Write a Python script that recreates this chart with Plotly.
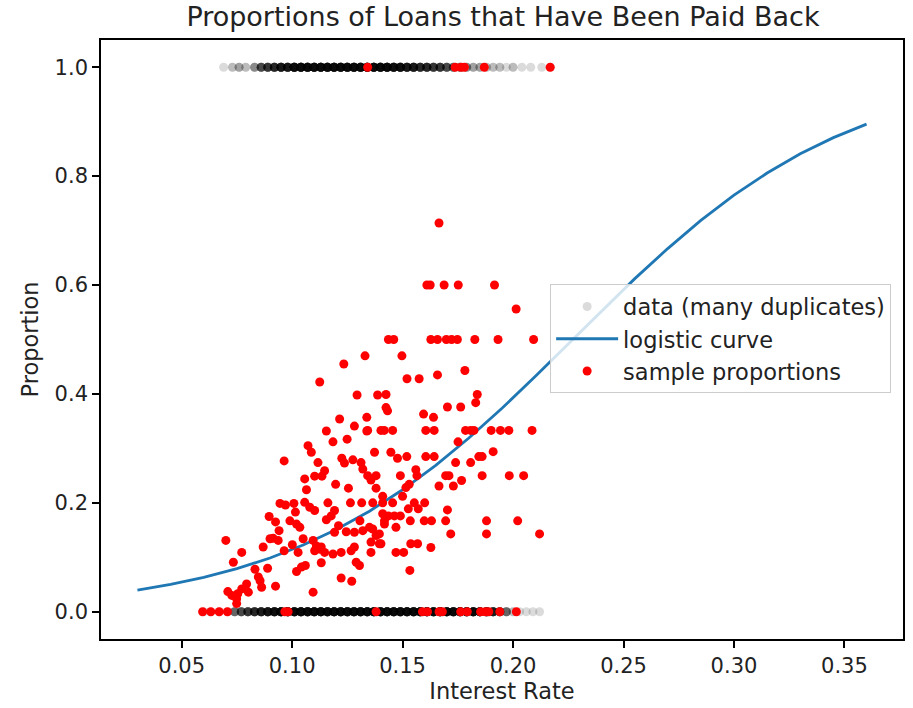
import numpy as np
import plotly.graph_objects as go

# Raw loan outcomes: interest rate values and how many loans share each value
rates_y1 = [0.069, 0.073, 0.076, 0.079, 0.083, 0.086, 0.089, 0.092, 0.095, 0.098,
            0.101, 0.104, 0.107, 0.110, 0.113, 0.116, 0.119, 0.122, 0.125, 0.128,
            0.131, 0.134, 0.137, 0.140, 0.143, 0.146, 0.149, 0.152, 0.155, 0.158,
            0.161, 0.164, 0.167, 0.170, 0.173, 0.176, 0.179, 0.182, 0.185, 0.188,
            0.191, 0.194, 0.197, 0.200, 0.204, 0.208, 0.213, 0.217]
counts_y1 = [1, 2, 3, 2, 4, 8, 10, 12, 15, 15,
             20, 20, 20, 20, 20, 20, 20, 20, 20, 20,
             20, 20, 20, 20, 20, 18, 18, 15, 15, 12,
             12, 10, 10, 8, 6, 5, 4, 3, 3, 2,
             2, 2, 1, 2, 1, 1, 1, 1]

rates_y0 = [0.060, 0.063, 0.067, 0.071, 0.074, 0.077, 0.080, 0.083, 0.086, 0.089,
            0.092, 0.095, 0.098, 0.101, 0.104, 0.107, 0.110, 0.113, 0.116, 0.119,
            0.122, 0.125, 0.128, 0.131, 0.134, 0.137, 0.140, 0.143, 0.146, 0.149,
            0.152, 0.155, 0.158, 0.161, 0.164, 0.167, 0.170, 0.173, 0.176, 0.179,
            0.182, 0.185, 0.188, 0.191, 0.194, 0.197, 0.200, 0.203, 0.206, 0.209,
            0.212]
counts_y0 = [1, 1, 1, 1, 6, 8, 10, 12, 14, 16,
             18, 20, 20, 20, 20, 20, 20, 20, 20, 20,
             20, 20, 20, 20, 20, 20, 20, 20, 20, 20,
             20, 20, 20, 20, 20, 20, 20, 20, 20, 20,
             20, 18, 16, 14, 10, 6, 2, 1, 1, 1,
             1]

# Fitted logistic curve, sampled along the interest-rate range
curve_rate = [0.030, 0.045, 0.060, 0.075, 0.090, 0.105, 0.120, 0.135, 0.150, 0.165,
              0.180, 0.195, 0.210, 0.225, 0.240, 0.255, 0.270, 0.285, 0.300, 0.315,
              0.330, 0.345, 0.360]
curve_prob = [0.0399, 0.0503, 0.0632, 0.0792, 0.0987, 0.1225, 0.1510, 0.1847, 0.2240, 0.2689,
              0.3190, 0.3738, 0.4320, 0.4922, 0.5526, 0.6113, 0.6670, 0.7186, 0.7650, 0.8057,
              0.8410, 0.8707, 0.8956]

# Proportion repaid within each sampled group of loans
sample_rate = [
    0.1665,
    0.1610, 0.1625, 0.1688, 0.1752, 0.1916,
    0.2014,
    0.1436, 0.1460, 0.1628, 0.1658, 0.1698, 0.1722, 0.1748, 0.1827, 0.1932, 0.2093,
    0.1330, 0.1234, 0.1125, 0.1294, 0.1387,
    0.1497, 0.1520, 0.1575, 0.1658, 0.1782, 0.1425, 0.1838, 0.1831, 0.1425, 0.1432, 0.1703, 0.1763,
    0.1595, 0.1640,
    0.1342, 0.1402, 0.1417, 0.1455, 0.1605, 0.1643, 0.1785, 0.1808, 0.1823, 0.1901, 0.1943, 0.1981, 0.2086,
    0.1751, 0.1373,
    0.1447, 0.1477, 0.1519, 0.1605, 0.1643, 0.1910,
    0.1740, 0.1808, 0.1845, 0.1860,
    0.1342, 0.1380, 0.1490, 0.1565, 0.1695, 0.1710, 0.1860, 0.1983, 0.2048,
    0.1560, 0.1357, 0.1380, 0.1515, 0.1530, 0.1665, 0.1730, 0.1767,
    0.1410, 0.1500,
    0.1365, 0.1410, 0.1455, 0.1553, 0.1600,
    0.1526, 0.1571, 0.1703,
    0.1436, 0.1463, 0.1490, 0.1410,
    0.1418, 0.1535, 0.1598, 0.1631, 0.1695, 0.1880, 0.2021, 0.1418,
    0.1470, 0.1365, 0.1380, 0.1395,
    0.1718, 0.1880, 0.2120,
    0.1537, 0.1568, 0.1628, 0.1402,
    0.1470, 0.1505, 0.1357, 0.1395,
    0.1533,
    0.1215, 0.1338, 0.1282, 0.1338, 0.1155, 0.1185, 0.1249, 0.1072, 0.1087,
    0.0964, 0.1117, 0.1225, 0.1237, 0.1275, 0.1312, 0.1320, 0.1147, 0.1102,
    0.1135, 0.1057, 0.1065, 0.1197, 0.1255,
    0.0945, 0.0970, 0.1008, 0.1057, 0.1162, 0.1264, 0.1315,
    0.1080, 0.1102, 0.1015, 0.0896, 0.0925, 0.0990, 0.1020, 0.1035, 0.1155,
    0.1177, 0.1192, 0.1210, 0.1192, 0.1307, 0.1245, 0.1282, 0.1320, 0.1350,
    0.0900, 0.0914, 0.0937, 0.0941, 0.0700, 0.0869, 0.0772, 0.0964, 0.1001,
    0.1050, 0.1027,
    0.1095, 0.1110, 0.1125, 0.1102, 0.1147, 0.1132,
    0.1185, 0.1222, 0.1267, 0.1282, 0.1357,
    0.0734, 0.0832, 0.0847, 0.0855, 0.0889, 0.1020, 0.1042, 0.1060, 0.1132,
    0.1222, 0.1270, 0.1290, 0.1305, 0.1095,
    0.0709, 0.0727, 0.0754, 0.0772, 0.0794, 0.0802, 0.0862, 0.0925, 0.0749, 0.0749,
    0.0595, 0.0632, 0.0670, 0.0707, 0.0967, 0.0982, 0.1380, 0.1590, 0.1613,
    0.1665, 0.1680, 0.1763, 0.1793, 0.1853, 0.1875, 0.1890, 0.1940, 0.2015,
    0.1342, 0.1738, 0.1765, 0.1780, 0.1870, 0.2168,
]
sample_prop = [
    0.714,
    0.600, 0.600, 0.600, 0.600, 0.600,
    0.556,
    0.500, 0.500, 0.500, 0.500, 0.500, 0.500, 0.500, 0.500, 0.500, 0.500,
    0.470, 0.455, 0.422, 0.398, 0.398,
    0.470, 0.428, 0.428, 0.435, 0.443, 0.399, 0.399, 0.384, 0.375, 0.369, 0.376, 0.376,
    0.363, 0.357,
    0.333, 0.333, 0.333, 0.333, 0.333, 0.333, 0.333, 0.333, 0.333, 0.333, 0.333, 0.333, 0.333,
    0.312, 0.293,
    0.293, 0.282, 0.285, 0.285, 0.285, 0.294,
    0.274, 0.274, 0.285, 0.285,
    0.250, 0.250, 0.250, 0.250, 0.250, 0.250, 0.250, 0.250, 0.250,
    0.261, 0.242, 0.227, 0.228, 0.234, 0.231, 0.231, 0.241,
    0.212, 0.212,
    0.200, 0.200, 0.200, 0.200, 0.200,
    0.189, 0.189, 0.187,
    0.176, 0.176, 0.176, 0.180,
    0.167, 0.167, 0.167, 0.167, 0.167, 0.167, 0.167, 0.161,
    0.155, 0.152, 0.140, 0.143,
    0.143, 0.143, 0.143,
    0.125, 0.125, 0.118, 0.125,
    0.109, 0.109, 0.109, 0.125,
    0.076,
    0.354, 0.357, 0.341, 0.332, 0.332, 0.312, 0.317, 0.305, 0.293,
    0.277, 0.274, 0.282, 0.273, 0.279, 0.274, 0.262, 0.259, 0.249,
    0.249, 0.244, 0.224, 0.234, 0.227,
    0.199, 0.196, 0.199, 0.201, 0.200, 0.200, 0.200,
    0.192, 0.186, 0.183, 0.175, 0.165, 0.167, 0.161, 0.155, 0.169,
    0.176, 0.186, 0.158, 0.146, 0.167, 0.147, 0.146, 0.149, 0.155,
    0.134, 0.135, 0.131, 0.149, 0.131, 0.119, 0.109, 0.112, 0.123,
    0.134, 0.109,
    0.131, 0.121, 0.115, 0.112, 0.109, 0.119,
    0.106, 0.109, 0.112, 0.119, 0.128,
    0.091, 0.078, 0.064, 0.057, 0.080, 0.074, 0.082, 0.085, 0.090,
    0.062, 0.056, 0.091, 0.085, 0.036,
    0.037, 0.030, 0.033, 0.042, 0.051, 0.036, 0.045, 0.047, 0.024, 0.015,
    0.0, 0.0, 0.0, 0.0, 0.0, 0.0, 0.0, 0.0, 0.0,
    0.0, 0.0, 0.0, 0.0, 0.0, 0.0, 0.0, 0.0, 0.0,
    1.0, 1.0, 1.0, 1.0, 1.0, 1.0,
]

# Expand the duplicated raw observations
data_x = np.concatenate([np.repeat(rates_y0, counts_y0), np.repeat(rates_y1, counts_y1)])
data_y = np.concatenate([np.zeros(sum(counts_y0)), np.ones(sum(counts_y1))])

FONT = "DejaVu Sans"
TEXT = "#222"

fig = go.Figure()
fig.add_trace(go.Scatter(
    x=data_x, y=data_y, mode="markers", name="data (many duplicates)",
    marker=dict(size=9, color="rgba(0,0,0,0.14)", line=dict(width=0)),
))
fig.add_trace(go.Scatter(
    x=curve_rate, y=curve_prob, mode="lines", name="logistic curve",
    line=dict(color="#1f77b4", width=2.8),
))
fig.add_trace(go.Scatter(
    x=sample_rate, y=sample_prop, mode="markers", name="sample proportions",
    marker=dict(size=9, color="#ff0000", line=dict(width=0)),
))

axis_common = dict(
    showgrid=False, zeroline=False, showline=True, mirror=True,
    linecolor="black", linewidth=1.6, ticks="outside", ticklen=7,
    tickwidth=1.6, tickcolor="black", tickfont=dict(family=FONT, size=21, color=TEXT),
)

fig.update_layout(
    width=913, height=708,
    margin=dict(l=101, r=8, t=40, b=67),
    paper_bgcolor="white", plot_bgcolor="white",
    font=dict(family=FONT, size=21, color=TEXT),
    title=dict(text="Proportions of Loans that Have Been Paid Back",
               x=(101 + 905) / 2 / 913, xanchor="center",
               y=1 - 17 / 708, yanchor="middle", yref="container",
               font=dict(family=FONT, size=27, color=TEXT)),
    xaxis=dict(axis_common, range=[0.0135, 0.3765],
               tickvals=[0.05, 0.10, 0.15, 0.20, 0.25, 0.30, 0.35], tickformat=".2f",
               title=dict(text="Interest Rate", standoff=6,
                          font=dict(family=FONT, size=22.5, color=TEXT))),
    yaxis=dict(axis_common, range=[-0.05, 1.05],
               tickvals=[0.0, 0.2, 0.4, 0.6, 0.8, 1.0], tickformat=".1f",
               title=dict(text="Proportion", standoff=10,
                          font=dict(family=FONT, size=22.5, color=TEXT))),
    legend=dict(x=0.56, y=0.592, xanchor="left", yanchor="top",
                bgcolor="rgba(255,255,255,0.8)", bordercolor="#cccccc", borderwidth=1,
                font=dict(family=FONT, size=22.5, color=TEXT), itemwidth=62,
                tracegroupgap=5),
    showlegend=True,
)

fig.write_html("out.html")
